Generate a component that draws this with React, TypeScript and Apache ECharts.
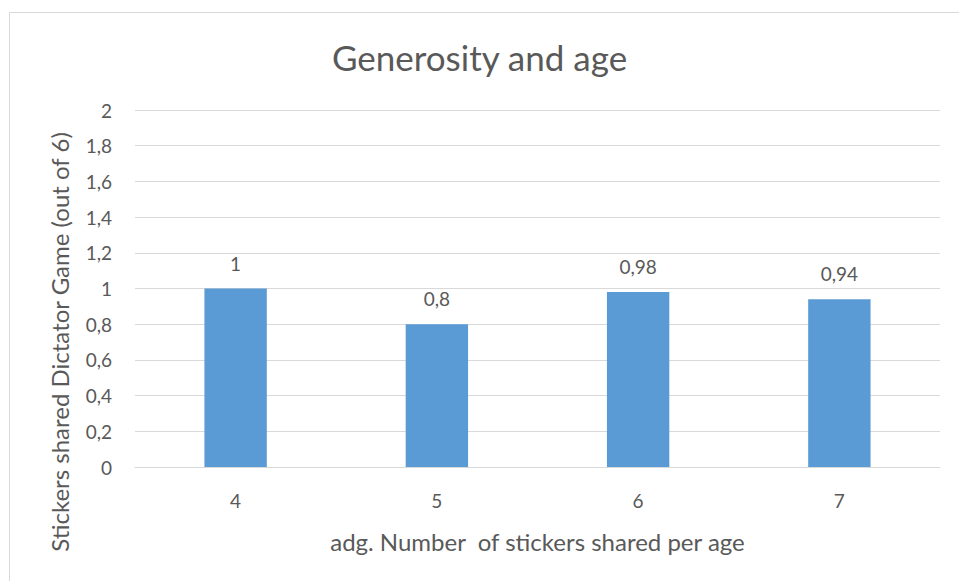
import React, { useEffect, useRef } from "react";
import * as echarts from "echarts";

const titleText = "Generosity and age";
const categories = ["4", "5", "6", "7"];
const values = [1, 0.8, 0.98, 0.94];
const yAxisName = "Stickers shared Dictator Game (out of 6)";
const xAxisName = "adg. Number  of stickers shared per age";

const FONT = "Lato, 'Open Sans', sans-serif";
const TEXT = "#595959";

export default function App() {
  const ref = useRef<HTMLDivElement>(null);
  useEffect(() => {
    if (!ref.current) return;
    const chart = echarts.init(ref.current, null, { renderer: "svg" });
    const fmt = (v: number) => String(v).replace(".", ",");
    chart.setOption({
      animation: false,
      backgroundColor: "#ffffff",
      title: {
        text: titleText,
        left: "center",
        top: 34,
        textStyle: { color: TEXT, fontFamily: FONT, fontSize: 35, fontWeight: "normal" },
      },
      graphic: [
        {
          type: "rect",
          left: 7,
          top: 10,
          shape: { width: 970, height: 590 },
          style: { fill: "none", stroke: "#d9d9d9", lineWidth: 1 },
          silent: true,
        },
        {
          type: "text",
          x: 59,
          y: 342,
          rotation: Math.PI / 2,
          silent: true,
          style: {
            text: yAxisName,
            fill: TEXT,
            font: `24px ${FONT}`,
            align: "center",
            verticalAlign: "middle",
          },
        },
      ],
      grid: { left: 135, right: 19, top: 110, bottom: 114 },
      xAxis: {
        type: "category",
        data: categories,
        name: xAxisName,
        nameLocation: "middle",
        nameGap: 62,
        nameTextStyle: { color: TEXT, fontFamily: FONT, fontSize: 24 },
        axisLine: { lineStyle: { color: "#d9d9d9", width: 1 } },
        axisTick: { show: false },
        axisLabel: { color: TEXT, fontFamily: FONT, fontSize: 19, margin: 24 },
      },
      yAxis: {
        type: "value",
        min: 0,
        max: 2,
        interval: 0.2,
        axisLine: { show: false },
        axisTick: { show: false },
        splitLine: { lineStyle: { color: "#d9d9d9", width: 1 } },
        axisLabel: {
          color: TEXT,
          fontFamily: FONT,
          fontSize: 19,
          margin: 23,
          formatter: (v: number) => fmt(Math.round(v * 10) / 10),
        },
      },
      series: [
        {
          type: "bar",
          data: values,
          barWidth: "31%",
          itemStyle: { color: "#5b9bd5" },
          label: {
            show: true,
            position: "top",
            distance: 16,
            color: TEXT,
            fontFamily: FONT,
            fontSize: 19,
            formatter: (p: any) => fmt(p.value),
          },
        },
      ],
    });
    return () => chart.dispose();
  }, []);
  return (
    <div
      ref={ref}
      style={{ position: "fixed", left: 0, top: 0, width: 959, height: 581 }}
    />
  );
}
